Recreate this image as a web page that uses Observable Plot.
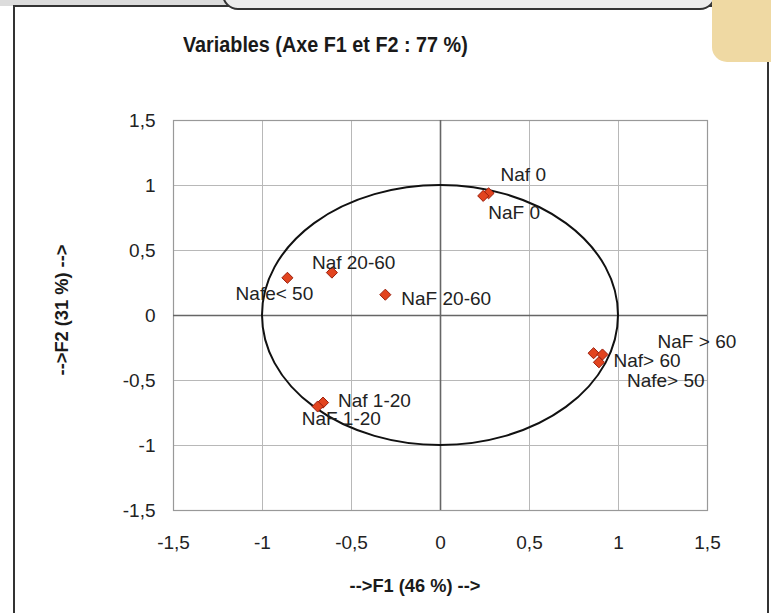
<!DOCTYPE html>
<html>
<head>
<meta charset="utf-8">
<script src="https://cdn.jsdelivr.net/npm/d3@7"></script>
<script src="https://cdn.jsdelivr.net/npm/@observablehq/plot@0.6"></script>
<style>
  html, body { margin: 0; padding: 0; background: #fff; width: 771px; height: 613px; overflow: hidden; }
  #wrap { position: relative; width: 771px; height: 613px; }
  .band { position: absolute; left: 0; top: 0; width: 771px; height: 6px; background: #dcdcdc; }
  .panel { position: absolute; left: 13px; top: 5px; width: 752px; height: 640px; border: 2px solid #333; border-bottom: none; background: #fff; }
  .tab { position: absolute; left: 222px; top: -30px; width: 490px; height: 36px; border: 2px solid #333; border-radius: 16px; background: #ececec; }
  .beige { position: absolute; left: 712px; top: 0; width: 64px; height: 62px; background: #efd9a3; border-bottom-left-radius: 15px; }
  #chart { position: absolute; left: 0; top: 0; }
  .ttl { position: absolute; font-family: "Liberation Sans Narrow", "Arial Narrow", "Liberation Sans", Arial, sans-serif; font-weight: bold; color: #1a1a1a; white-space: nowrap; line-height: 1; }
  .title { left: 183px; top: 35px; font-size: 21.5px; transform: scaleX(0.92); transform-origin: 0 50%; }
  .xlab { left: 415px; top: 585px; font-size: 19px; transform: translate(-50%, -50%) scaleX(0.96); }
  .ylab { left: 61px; top: 310px; font-size: 19px; transform: translate(-50%, -50%) rotate(-90deg) scaleX(0.96); }
</style>
</head>
<body>
<div id="wrap">
  <div class="band"></div>
  <div class="panel"></div>
  <div class="tab"></div>
  <div class="beige"></div>
  <div id="chart"></div>
  <div class="ttl title">Variables (Axe F1 et F2 : 77 %)</div>
  <div class="ttl xlab">--&gt;F1 (46 %) --&gt;</div>
  <div class="ttl ylab">--&gt;F2 (31 %) --&gt;</div>
</div>
<script>
// ---- data ----
const labels = ["Naf 0", "NaF 0", "Nafe< 50", "Naf 20-60", "NaF 20-60", "NaF > 60", "Naf> 60", "Nafe> 50", "Naf 1-20", "NaF 1-20"];
const f1 = [0.27, 0.24, -0.86, -0.61, -0.31, 0.86, 0.91, 0.89, -0.66, -0.69];
const f2 = [0.94, 0.92, 0.29, 0.33, 0.16, -0.29, -0.30, -0.36, -0.67, -0.70];
const tickValues = [-1.5, -1, -0.5, 0, 0.5, 1, 1.5];
const tickLabels = ["-1,5", "-1", "-0,5", "0", "0,5", "1", "1,5"];

// ---- layout (label offsets in px, not data) ----
const labelOffsets = [
  [12, -18, "start"], [5, 17, "start"], [-13, 16, "middle"], [-20, -10, "start"], [16, 4, "start"],
  [64, -11, "start"], [11, 6, "start"], [28, 19, "start"], [15, -2, "start"], [-16, 12, "start"]
];

const points = labels.map((l, i) => ({label: l, x: f1[i], y: f2[i]}));
const fmt = v => tickLabels[tickValues.indexOf(v)];
const FONT = '"Liberation Sans", Arial, sans-serif';

// unit correlation circle drawn through the plot's scales
function unitCircle(index, scales) {
  const cx = scales.x(0), cy = scales.y(0);
  const rx = scales.x(1) - cx, ry = cy - scales.y(1);
  const g = d3.create("svg:g");
  g.append("ellipse").attr("cx", cx).attr("cy", cy).attr("rx", rx).attr("ry", ry)
    .attr("fill", "none").attr("stroke", "#111").attr("stroke-width", 2);
  return g.node();
}

const textMarks = points.map((p, i) => Plot.text([p], {
  x: "x", y: "y", text: "label",
  dx: labelOffsets[i][0], dy: labelOffsets[i][1], textAnchor: labelOffsets[i][2],
  fontSize: 19, fill: "#222", fontFamily: FONT
}));

const chart = Plot.plot({
  width: 771,
  height: 560,
  marginLeft: 173,
  marginRight: 64,
  marginTop: 120,
  marginBottom: 50,
  style: {background: "transparent", fontFamily: FONT, fontSize: "19px", color: "#222"},
  x: {domain: [-1.5, 1.5], ticks: tickValues, tickFormat: fmt, tickSize: 0, tickPadding: 25, label: null},
  y: {domain: [-1.5, 1.5], ticks: tickValues, tickFormat: fmt, tickSize: 0, tickPadding: 18, label: null},
  marks: [
    Plot.gridX(tickValues, {stroke: "#b8b8b8", strokeOpacity: 1, strokeWidth: 1}),
    Plot.gridY(tickValues, {stroke: "#b8b8b8", strokeOpacity: 1, strokeWidth: 1}),
    Plot.frame({stroke: "#999", strokeWidth: 1.2}),
    Plot.ruleY([0], {stroke: "#666", strokeWidth: 1.6}),
    Plot.ruleX([0], {stroke: "#666", strokeWidth: 1.6}),
    Plot.axisX(tickValues, {tickFormat: fmt, tickSize: 0, tickPadding: 25, fontSize: 19, fill: "#222", label: null}),
    Plot.axisY(tickValues, {tickFormat: fmt, tickSize: 0, tickPadding: 18, fontSize: 19, fill: "#222", label: null}),
    unitCircle,
    Plot.dot(points, {x: "x", y: "y", symbol: "diamond2", r: 5, fill: "#e2441f", stroke: "#9a1e0c", strokeWidth: 1}),
    ...textMarks
  ]
});
document.getElementById("chart").appendChild(chart);
</script>
</body>
</html>
